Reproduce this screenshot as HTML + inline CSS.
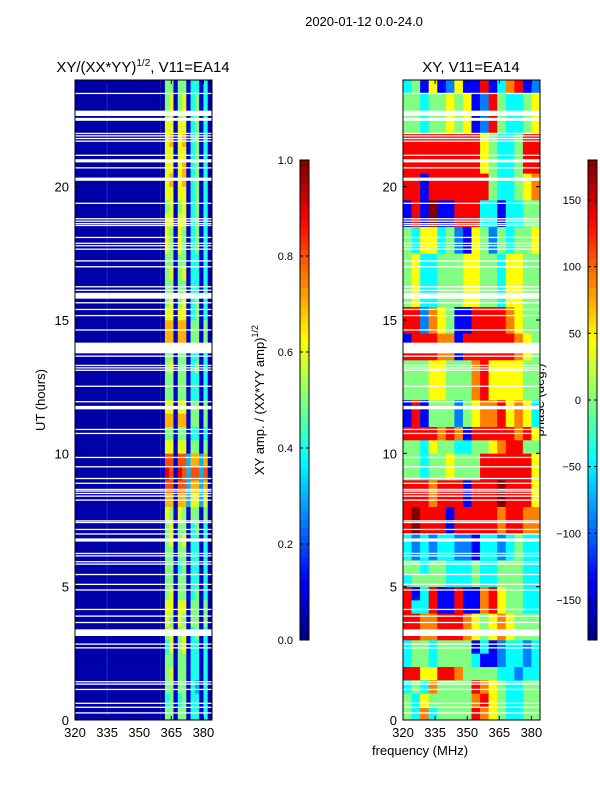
<!DOCTYPE html>
<html><head><meta charset="utf-8"><style>
body{margin:0;background:#fff;}
svg{display:block;font-family:"Liberation Sans",sans-serif;}
</style></head><body>
<svg id="fig" width="600" height="800" viewBox="0 0 600 800">
<text x="364" y="26" font-size="13" text-anchor="middle">2020-01-12 0.0-24.0</text>
<text x="143" y="72" font-size="15" text-anchor="middle">XY/(XX*YY)<tspan font-size="10" dy="-6">1/2</tspan><tspan dy="6">, V11=EA14</tspan></text>
<text x="471" y="72" font-size="15" text-anchor="middle">XY, V11=EA14</text>
<text transform="translate(45,400) rotate(-90)" font-size="13" text-anchor="middle">UT (hours)</text>
<text x="420" y="755" font-size="13" text-anchor="middle">frequency (MHz)</text>
<text transform="translate(264,400) rotate(-90)" font-size="13" text-anchor="middle">XY amp. / (XX*YY amp)<tspan font-size="9" dy="-6">1/2</tspan></text>
<text transform="translate(544,400) rotate(-90)" font-size="13" text-anchor="middle">phase (deg.)</text>
<g id="left"></g>
<g id="right"></g>
<g id="cb1"></g>
<g id="cb2"></g>
</svg>
<script>
// ---- data ----
const xTicks = [320, 335, 350, 365, 380];
const yTicks = [0, 5, 10, 15, 20];
const ampTicks = [0.0, 0.2, 0.4, 0.6, 0.8, 1.0];
const phaseTicks = [-150, -100, -50, 0, 50, 100, 150];
// amplitude rows, 0.5 h each from 0h upward; first char = quiet band 320-360, then 12 cols of 2 MHz (360-384)
const ampRows = [
"1155255244241","1145245244241","1155255243241","1156255244241","1155255244241","1146256244241",
"1156256245241","1165265255251","1166266255251","1156255245241","1155255244241","1155245244241",
"1155255244241","1156256244241","1156255245241","1165265255251","1277277366361","1288288377371",
"1298298388381","1288288377371","1166266255251","1155255244241","1177277255251","1166266255251",
"1155255244241","1155255244241","1156255245241","1155255244241","1177277255251","1177277255251",
"1166266245241","1156256245241","1155255244241","1156256244241","1155255244241","1165265245241",
"1165265245241","1166266245241","1156256245241","1166266245241","1167267245241","1166267245241",
"1166266245241","1167267245241","1166266245241","1156256245241","1156256245241","1155255244241"
];
// phase rows, 0.5 h each from 0h; 16 cols of 4 MHz (320-384); digit d -> -180 + 45*d
const phaseRows = [
"4363444476543344","4354444467543344","3436444476543344","7755776444433233",
"3443444431123323","3443444413123323","7766777654565444","7766777654565444",
"7337117116754433","7137117116754433","3444433343344433","4434433343344433",
"3232332213323433","3232332213323433","7877717777767766","7877717777767766",
"7776777177787775","7776777177787775","4434454447777775","4434454447777775",
"4435443344567744","7777676177777675","1714442456675653","1714442456675653",
"4445544467555544","4445544467555544","4445544467555544","7777661777777654",
"1777661777777654","7726541177776544","7726541177776544","4533444554435544",
"4533444554435544","4533444554435544","4533444554435544","4355342154243445",
"4355342154243445","1718117773313344","1718117773313344","7717777777433456",
"7717777777433456","7777777775433477","7777777775433477","7777777775433477",
"4434454512743345","4434454512743345","4434454512743345","3415125117136712"
];
// blank (flagged) intervals in UT hours
const gaps = [
[0.25,0.29],[0.46,0.5],[0.61,0.65],[1.13,1.17],[1.33,1.37],[1.42,1.46],[2.69,2.73],[2.83,2.87],
[3.15,3.40],[3.64,3.68],[3.88,3.92],[4.13,4.17],[4.86,4.9],[5.07,5.11],[5.44,5.48],[5.83,5.87],
[5.92,5.96],[6.14,6.18],[6.23,6.27],[6.69,6.81],[6.96,7.0],[7.13,7.17],[7.39,7.43],[7.45,7.49],
[8.23,8.27],[8.38,8.42],[8.48,8.52],[8.57,8.61],[8.63,8.67],[8.86,8.9],[9.04,9.08],[9.48,9.52],
[9.83,9.87],[10.73,10.77],[10.88,10.92],[11.65,11.78],[11.92,11.96],[12.5,12.54],[13.1,13.14],
[13.19,13.23],[13.28,13.32],[13.63,13.67],[13.75,14.15],[14.61,14.65],[15.15,15.19],[15.38,15.42],
[15.63,15.67],[15.8,16.02],[16.1,16.14],[16.23,16.27],[16.98,17.02],[17.2,17.24],[17.64,17.68],
[17.77,17.81],[17.86,17.9],[18.08,18.12],[18.53,18.57],[18.6,18.64],[18.69,18.73],[18.78,18.82],
[19.36,19.4],[20.22,20.34],[20.69,20.73],[20.91,21.03],[21.16,21.2],[21.69,21.73],[21.79,21.83],
[21.89,21.93],[21.98,22.02],[22.47,22.58],[22.65,22.85],[23.48,23.52]
];
// ---- helpers ----
const NS = "http://www.w3.org/2000/svg";
function mk(tag, attrs, parent){const e=document.createElementNS(NS,tag);for(const k in attrs)e.setAttribute(k,attrs[k]);parent.appendChild(e);return e;}
function jet(v){v=Math.max(0,Math.min(1,v));
 const r=Math.max(0,Math.min(1,1.5-Math.abs(4*v-3))), g=Math.max(0,Math.min(1,1.5-Math.abs(4*v-2))), b=Math.max(0,Math.min(1,1.5-Math.abs(4*v-1)));
 return `rgb(${Math.round(r*255)},${Math.round(g*255)},${Math.round(b*255)})`;}
function ampLevel(d){return d<=2 ? 0.04*d : d/10;}
const Y0=720, Y1=80, XMIN=320, XMAX=384;
const yScale = h => Y0 - (h/24)*(Y0-Y1);
function panel(gid, x0, x1, drawCells){
 const g=document.getElementById(gid);
 const xs=f=>x0+(f-XMIN)/(XMAX-XMIN)*(x1-x0);
 drawCells(g,xs);
 for(const gp of gaps){
  const r=mk("rect",{x:x0,y:yScale(gp[1]),width:x1-x0,height:Math.max(1.3,yScale(gp[0])-yScale(gp[1])),fill:"#fff"},g);
  
  
 }
 const fr=mk("rect",{x:x0,y:Y1,width:x1-x0,height:Y0-Y1,fill:"none",stroke:"#000","stroke-width":1},g);
 
 
 for(const t of xTicks){const x=xs(t);
  mk("line",{x1:x,x2:x,y1:Y0,y2:Y0-4,stroke:"#000"},g);
  mk("line",{x1:x,x2:x,y1:Y1,y2:Y1+4,stroke:"#000"},g);
  const tx=mk("text",{x:x,y:Y0+17,"font-size":13,"text-anchor":"middle"},g);tx.textContent=t;
  
  }
 for(const t of yTicks){const y=yScale(t);
  mk("line",{x1:x0,x2:x0+4,y1:y,y2:y,stroke:"#000"},g);
  mk("line",{x1:x1,x2:x1-4,y1:y,y2:y,stroke:"#000"},g);
  const tx=mk("text",{x:x0-6,y:y+5,"font-size":13,"text-anchor":"end"},g);tx.textContent=t;
  
  }
}
// amplitude panel
panel("left",75,212,(g,xs)=>{
 ampRows.forEach((row,i)=>{
  const ya=yScale(i*0.5+0.5), yb=yScale(i*0.5);
  const q=mk("rect",{x:xs(320),y:ya,width:xs(360)-xs(320),height:yb-ya+0.3,fill:jet(ampLevel(+row[0]))},g);
  
  
  for(let c=1;c<row.length;c++){
   const f=360+(c-1)*2;
   const r=mk("rect",{x:xs(f),y:ya,width:xs(f+2)-xs(f)+0.3,height:yb-ya+0.3,fill:jet(ampLevel(+row[c]))},g);
   
   
  }
 });
 mk("line",{x1:xs(335),x2:xs(335),y1:Y1,y2:Y0,stroke:"#1f5fff","stroke-width":1,opacity:0.5},g);
});
// phase panel
panel("right",403,540,(g,xs)=>{
 phaseRows.forEach((row,i)=>{
  const ya=yScale(i*0.5+0.5), yb=yScale(i*0.5);
  for(let c=0;c<row.length;c++){
   const f=320+c*4;
   const ph=-180+45*(+row[c]);
   const r=mk("rect",{x:xs(f),y:ya,width:xs(f+4)-xs(f)+0.3,height:yb-ya+0.3,fill:jet((ph+180)/360)},g);
   
   
  }
 });
});
// colorbars
function colorbar(gid,x,vmin,vmax,ticks,fmt){
 const g=document.getElementById(gid);const top=160,bot=640,n=64;
 for(let i=0;i<n;i++){const y=bot-(i+1)*(bot-top)/n;
  mk("rect",{x:x,y:y,width:9,height:(bot-top)/n+0.4,fill:jet((i+0.5)/n)},g);}
 mk("rect",{x:x,y:top,width:9,height:bot-top,fill:"none",stroke:"#000"},g);
 for(const t of ticks){const y=bot-(t-vmin)/(vmax-vmin)*(bot-top);
  mk("line",{x1:x,x2:x+3,y1:y,y2:y,stroke:"#000"},g);
  mk("line",{x1:x+9,x2:x+6,y1:y,y2:y,stroke:"#000"},g);
  const tx=mk("text",{x:x-7,y:y+4,"font-size":11,"text-anchor":"end"},g);tx.textContent=fmt(t);
  
  }
}
colorbar("cb1",300,0,1,ampTicks,t=>t.toFixed(1));
colorbar("cb2",588,-180,180,phaseTicks,t=>t<0?"\u2212"+(-t):String(t));
</script>
</body></html>
